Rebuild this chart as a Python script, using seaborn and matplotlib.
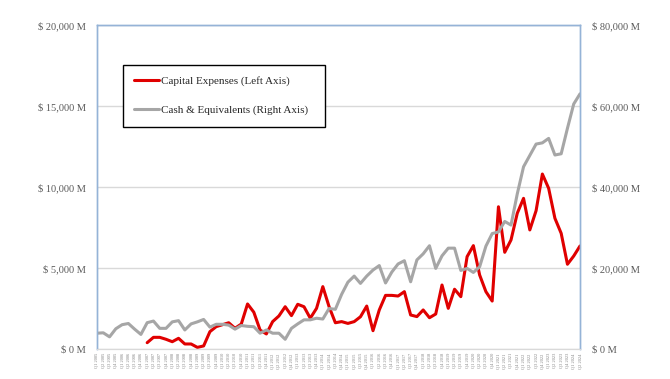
import numpy as np
import pandas as pd
import matplotlib
matplotlib.use("Agg")
import matplotlib.pyplot as plt
import seaborn as sns
from matplotlib.ticker import FuncFormatter, MultipleLocator

# quarterly labels, Q1 2005 .. Q2 2024
quarters = [f"Q{q} {y}" for y in range(2005, 2025) for q in range(1, 5)][:78]

# capital expenses, $ thousand millions (left axis); no data for first 8 quarters
capex = [np.nan] * 8 + [
    0.39, 0.72, 0.72, 0.60, 0.45, 0.66, 0.31, 0.31, 0.10, 0.19,
    1.07, 1.38, 1.50, 1.62, 1.28, 1.54, 2.78, 2.27, 1.17, 0.93,
    1.69, 2.04, 2.61, 2.06, 2.76, 2.61, 1.90, 2.51, 3.85, 2.61,
    1.62, 1.69, 1.58, 1.69, 1.99, 2.65, 1.13, 2.41, 3.31, 3.31,
    3.27, 3.54, 2.10, 2.00, 2.41, 1.93, 2.16, 3.95, 2.51, 3.69,
    3.23, 5.70, 6.38, 4.57, 3.54, 2.96, 8.78, 5.97, 6.73, 8.38,
    9.30, 7.35, 8.54, 10.80, 9.92, 8.07, 7.14, 5.23, 5.74, 6.36,
]

# cash & equivalents, $ thousand millions (right axis)
cash = [
    3.9, 4.0, 3.0, 5.0, 6.0, 6.3, 4.9, 3.6, 6.5, 6.9,
    5.1, 5.1, 6.7, 7.0, 4.7, 6.2, 6.7, 7.3, 5.4, 6.1,
    6.1, 5.9, 4.9, 5.8, 5.6, 5.5, 3.9, 4.7, 3.9, 3.9,
    2.4, 5.1, 6.2, 7.2, 7.2, 7.6, 7.4, 10.0, 9.8, 13.5,
    16.5, 18.0, 16.2, 18.0, 19.5, 20.6, 16.3, 19.0, 21.0, 21.8,
    16.6, 22.0, 23.5, 25.5, 19.9, 23.0, 24.9, 24.9, 19.4, 19.9,
    18.9, 20.3, 25.4, 28.5, 28.9, 31.5, 30.6, 38.3, 45.0, 47.8,
    50.6, 50.9, 52.0, 47.9, 48.2, 54.5, 60.5, 63.0,
]

df = pd.DataFrame({"pos": np.arange(len(quarters)), "quarter": quarters,
                   "capex": np.array(capex) * 1000, "cash": np.array(cash) * 1000})

sns.set_style("white")
plt.rcParams["font.family"] = ["Liberation Serif", "DejaVu Serif"]

fig = plt.figure(figsize=(6.7, 3.79), dpi=100)
ax = fig.add_axes([97 / 670, 1 - 349 / 379, 483 / 670, 324 / 379])
ax2 = ax.twinx()

red = "#E00000"
grey = "#A6A6A6"
sns.lineplot(data=df.dropna(subset=["capex"]), x="pos", y="capex", ax=ax,
             color=red, linewidth=2.2, label="Capital Expenses (Left Axis)", legend=False)
sns.lineplot(data=df, x="pos", y="cash", ax=ax2,
             color=grey, linewidth=2.2, label="Cash & Equivalents (Right Axis)", legend=False)

ax.set_ylim(0, 20000)
ax2.set_ylim(0, 80000)
ax.set_xlim(0, len(quarters) - 1)
ax.yaxis.set_major_locator(MultipleLocator(5000))
ax2.yaxis.set_major_locator(MultipleLocator(20000))
fmt = FuncFormatter(lambda v, p: f"$ {v:,.0f} M")
ax.yaxis.set_major_formatter(fmt)
ax2.yaxis.set_major_formatter(fmt)
ax.grid(axis="y", color="#D9D9D9", linewidth=1)
ax.set_xticks(df["pos"])
ax.set_xticklabels(quarters, rotation=90, fontsize=3.2, color="#7F7F7F")
ax.set_xlabel("")
ax.set_ylabel("")
ax2.set_ylabel("")
ax.tick_params(axis="x", length=0, pad=3)
ax.tick_params(axis="y", length=0, labelsize=7.5, labelcolor="#595959", pad=8)
ax2.tick_params(axis="y", length=0, labelsize=7.5, labelcolor="#595959", pad=9)

for a in (ax, ax2):
    for side in ("left", "right", "top"):
        a.spines[side].set_color("#95B3D7")
        a.spines[side].set_linewidth(1)
    a.spines["bottom"].set_color("#D9D9D9")

h1, l1 = ax.get_legend_handles_labels()
h2, l2 = ax2.get_legend_handles_labels()
leg = ax2.legend(h1 + h2, l1 + l2, loc="upper left",
                 bbox_to_anchor=(0.054, 0.682, 0.418, 0.195), mode="expand",
                 fontsize=8, frameon=True, fancybox=False, edgecolor="black",
                 framealpha=1, borderpad=1.0, labelspacing=1.75,
                 handlelength=2.2, handletextpad=0.2, borderaxespad=0)
leg.get_frame().set_linewidth(1.0)
for t in leg.get_texts():
    t.set_color("#262626")

fig.savefig("out.png", dpi=100)
